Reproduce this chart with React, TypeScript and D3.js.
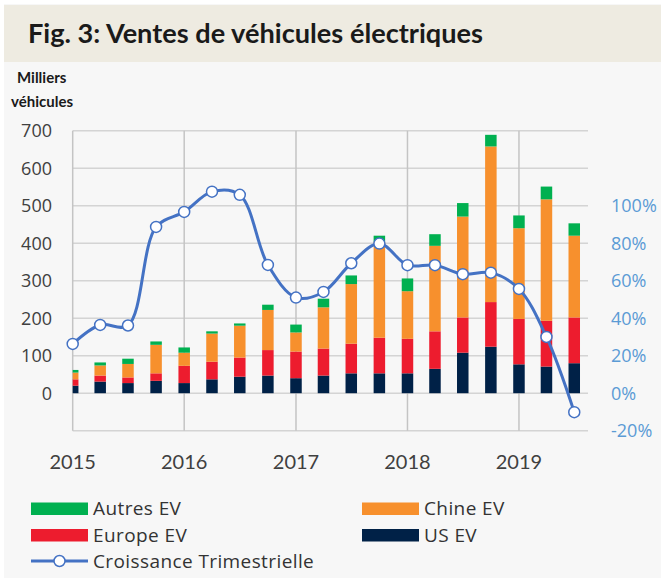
import React from 'react';
import * as d3 from 'd3';

// quarterly sales, thousands of vehicles
const quarters = [
  '2015-01-01', '2015-04-01', '2015-07-01', '2015-10-01',
  '2016-01-01', '2016-04-01', '2016-07-01', '2016-10-01',
  '2017-01-01', '2017-04-01', '2017-07-01', '2017-10-01',
  '2018-01-01', '2018-04-01', '2018-07-01', '2018-10-01',
  '2019-01-01', '2019-04-01', '2019-07-01',
];
const usEV = [20, 31, 27, 33, 27, 37, 44, 47, 40, 47, 53, 53, 53, 65, 108, 124, 77, 71, 80];
const europeEV = [17, 16, 15, 20, 46, 47, 51, 68, 71, 72, 79, 95, 92, 100, 94, 119, 121, 122, 122];
const chineEV = [18, 27, 36, 76, 35, 75, 85, 107, 51, 110, 159, 256, 127, 228, 269, 415, 242, 324, 218];
const autresEV = [7, 8, 14, 9, 14, 6, 6, 14, 21, 23, 23, 16, 34, 31, 36, 31, 34, 34, 33];
// croissance trimestrielle (%)
const croissance = [26.3, 36.4, 36.1, 88.7, 96.7, 107.5, 105.8, 68.4, 51.0, 54.0, 69.3, 79.8, 68.3, 68.3, 63.5, 64.3, 55.6, 30.0, -10.1];

const years = ['2015', '2016', '2017', '2018', '2019'];
const leftTicks = [0, 100, 200, 300, 400, 500, 600, 700];
const rightTicks = [-20, 0, 20, 40, 60, 80, 100];

const keys = ['us', 'europe', 'chine', 'autres'];
const colors: Record<string, string> = {
  us: '#002147',
  europe: '#ED1C2E',
  chine: '#F7902D',
  autres: '#00B050',
};
const lineColor = '#4472C4';

const W = 661;
const H = 578;
const plot = { left: 72.7, right: 588, top: 130.7, bottom: 430.7 };

export default function App() {
  const parse = d3.timeParse('%Y-%m-%d');
  const dates = quarters.map(q => parse(q) as Date);

  const x = d3.scaleTime()
    .domain([new Date(2015, 0, 1), new Date(2019, 7, 15)])
    .range([plot.left, plot.right]);
  const y = d3.scaleLinear().domain([-100, 700]).range([plot.bottom, plot.top]);
  const y2 = d3.scaleLinear().domain([-20, 140]).range([plot.bottom, plot.top]);

  const rows = dates.map((d, i) => ({
    date: d, us: usEV[i], europe: europeEV[i], chine: chineEV[i], autres: autresEV[i],
  }));
  const series = d3.stack<any>().keys(keys)(rows);
  const barW = 11.5;

  const line = d3.line<number>()
    .x((_, i) => x(dates[i]))
    .y(d => y2(d))
    .curve(d3.curveCatmullRom);

  const gridY = d3.range(-100, 701, 100);

  const legend = [
    { label: 'Autres EV', color: colors.autres, x: 31, y: 508.5 },
    { label: 'Chine EV', color: colors.chine, x: 362, y: 508.5 },
    { label: 'Europe EV', color: colors.europe, x: 31, y: 535 },
    { label: 'US EV', color: colors.us, x: 362, y: 535 },
  ];

  const legendFont = { fontFamily: 'Open Sans', fontSize: 19, letterSpacing: 0.4, fill: '#333' };

  return (
    <svg width={W} height={H} style={{ display: 'block', position: 'absolute', left: 0, top: 0 }}>
      <defs>
        <clipPath id="plotclip">
          <rect x={plot.left} y={0} width={W - plot.left} height={H} />
        </clipPath>
      </defs>
      <rect width={W} height={H} fill="#ffffff" />
      <rect x={4} y={4} width={W - 4} height={H - 4} fill="#f7f7f7" />
      <rect x={4} y={5} width={W - 4} height={57} fill="#eeebe1" />
      <text x={28} y={43} fontFamily="Lato" fontWeight="bold" fontSize={26} fill="#1a1a1a"
        textLength={455} lengthAdjust="spacingAndGlyphs">
        Fig. 3: Ventes de véhicules électriques
      </text>
      <text x={17} y={83} fontFamily="Lato" fontWeight="bold" fontSize={15} fill="#1a1a1a">Milliers</text>
      <text x={11} y={107} fontFamily="Lato" fontWeight="bold" fontSize={15} fill="#1a1a1a">véhicules</text>

      {/* gridlines */}
      {gridY.map(v => (
        <line key={'h' + v} x1={plot.left} x2={plot.right} y1={y(v)} y2={y(v)} stroke="#d4d4d4" strokeWidth={1.5} />
      ))}
      {years.map(yr => {
        const xx = x(new Date(+yr, 0, 1));
        return <line key={'v' + yr} x1={xx} x2={xx} y1={plot.top} y2={plot.bottom} stroke="#c4c4c4" strokeWidth={1.5} />;
      })}

      {/* stacked bars */}
      <g clipPath="url(#plotclip)">
        {series.map(s => (
          <g key={s.key} fill={colors[s.key]}>
            {s.map((d, i) => (
              <rect key={i} x={x(dates[i]) - barW / 2} width={barW}
                y={y(d[1])} height={y(d[0]) - y(d[1])} />
            ))}
          </g>
        ))}
      </g>

      {/* growth line */}
      <path d={line(croissance) || ''} fill="none" stroke={lineColor} strokeWidth={3} />
      {croissance.map((v, i) => (
        <circle key={i} cx={x(dates[i])} cy={y2(v)} r={5.5} fill="#fff" stroke={lineColor} strokeWidth={1.5} />
      ))}

      {/* left axis */}
      {leftTicks.map(t => (
        <text key={'l' + t} x={52} y={y(t)} dy="0.35em" textAnchor="end"
          fontFamily="Open Sans" fontSize={18} fill="#404040">{t}</text>
      ))}
      {/* right axis */}
      {rightTicks.map(t => (
        <text key={'r' + t} x={611} y={y2(t)} dy="0.35em"
          fontFamily="Open Sans" fontSize={18} fill="#5b9bd5">{t}%</text>
      ))}
      {/* x axis years */}
      {years.map(yr => (
        <text key={'x' + yr} x={x(new Date(+yr, 0, 1))} y={469} textAnchor="middle"
          fontFamily="Lato" fontSize={20} fill="#404040">{yr}</text>
      ))}

      {/* legend */}
      {legend.map(l => (
        <g key={l.label}>
          <rect x={l.x} y={l.y - 6} width={57} height={12.5} fill={l.color} />
          <text x={l.x + 62} y={l.y} dy="0.35em" {...legendFont}>{l.label}</text>
        </g>
      ))}
      <g>
        <line x1={31} x2={88} y1={561} y2={561} stroke={lineColor} strokeWidth={3} />
        <circle cx={59.5} cy={561} r={5.5} fill="#fff" stroke={lineColor} strokeWidth={1.5} />
        <text x={93} y={561} dy="0.35em" {...legendFont}>Croissance Trimestrielle</text>
      </g>
    </svg>
  );
}
